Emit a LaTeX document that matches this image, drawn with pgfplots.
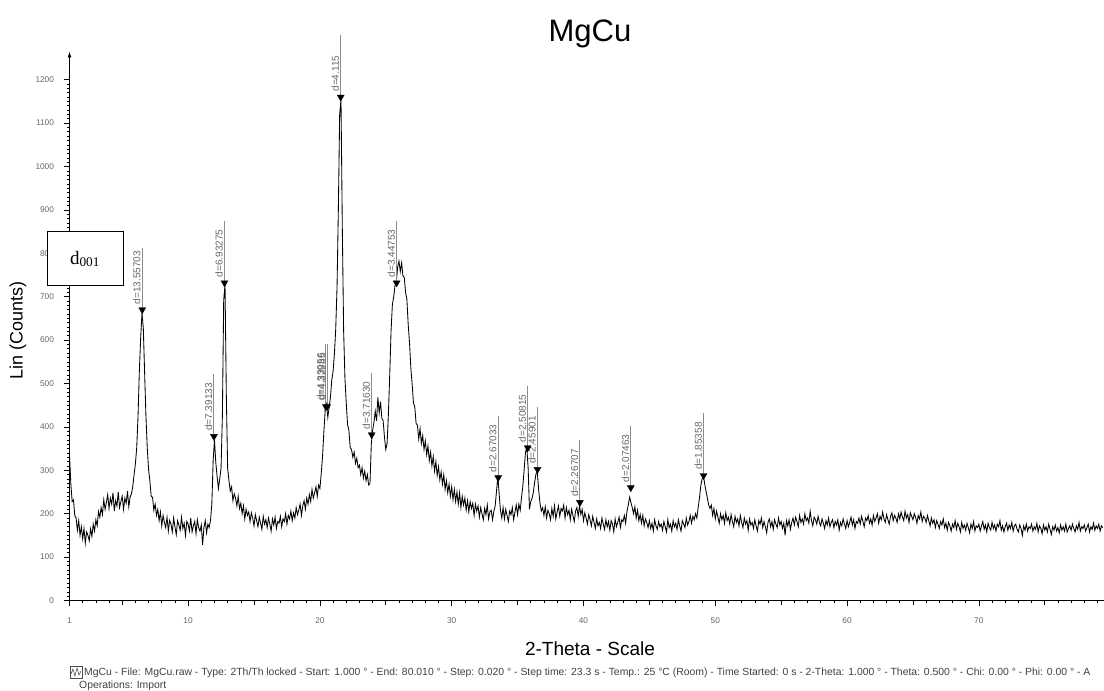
\documentclass[border=0pt]{standalone}
\usepackage{fontspec}
\setmainfont{Liberation Sans}
\newfontfamily\seriffont{Liberation Serif}
\usepackage{pgfplots}
\pgfplotsset{compat=1.18}
\usetikzlibrary{arrows.meta}

\begin{document}
\begin{tikzpicture}[x=1pt,y=1pt]
\path[use as bounding box] (0,0) rectangle (1104,691);
\begin{axis}[
  at={(69.5pt,90.5pt)}, anchor=south west,
  scale only axis, width=1034.5pt, height=549pt,
  xmin=1, xmax=79.5, ymin=0, ymax=1265,
  clip=false,
  axis x line=bottom, axis y line=left,
  x axis line style={-, line width=0.9pt},
  y axis line style={-{Latex[length=6pt,width=4pt]}, line width=0.9pt},
  tick align=outside,
  xtick={1,10,20,30,40,50,60,70},
  minor xtick={2,...,79},
  extra x ticks={5,15,25,35,45,55,65,75},
  extra x tick labels={},
  extra x tick style={major tick length=4.5pt},
  ytick={0,100,...,1200},
  minor y tick num=9,
  major tick length=6pt, minor tick length=3pt,
  every tick/.style={black, line width=0.6pt},
  /pgf/number format/assume math mode=true,
  /pgf/number format/1000 sep={},
  xticklabel style={font=\fontsize{8.3}{10}\selectfont, text=black!60, yshift=-8pt},
  yticklabel style={font=\fontsize{8.3}{10}\selectfont, text=black!60, xshift=-6pt},
]
\addplot[black, line width=0.85pt] coordinates {
(1.0,335)(1.1,270)(1.2,228)(1.3,232)(1.4,196)(1.5,190)(1.6,162)(1.7,184)(1.8,150)(1.9,170)
(2.0,142)(2.1,166)(2.2,132)(2.3,158)(2.4,150)(2.5,138)(2.6,165)(2.7,148)(2.8,176)(2.9,160)
(3.0,186)(3.1,172)(3.2,205)(3.3,192)(3.4,214)(3.5,198)(3.6,232)(3.7,210)(3.8,226)(3.9,244)
(4.0,212)(4.1,236)(4.2,222)(4.3,248)(4.4,206)(4.5,230)(4.6,218)(4.7,250)(4.8,214)(4.9,228)
(5.0,240)(5.1,210)(5.2,236)(5.3,224)(5.4,252)(5.5,216)(5.6,238)(5.7,246)(5.8,262)(5.9,290)
(6.0,315)(6.1,352)(6.2,425)(6.3,528)(6.4,605)(6.5,662)(6.6,628)(6.7,525)(6.8,425)(6.9,352)
(7.0,302)(7.1,275)(7.2,240)(7.3,238)(7.4,208)(7.5,222)(7.6,196)(7.7,210)(7.8,184)(7.9,204)
(8.0,172)(8.1,196)(8.2,180)(8.3,168)(8.4,192)(8.5,160)(8.6,185)(8.7,176)(8.8,158)(8.9,190)
(9.0,170)(9.1,152)(9.2,184)(9.3,174)(9.4,162)(9.5,192)(9.6,166)(9.7,178)(9.8,150)(9.9,182)
(10.0,176)(10.1,160)(10.2,190)(10.3,158)(10.4,172)(10.5,182)(10.6,154)(10.7,186)(10.8,168)(10.9,160)
(11.0,174)(11.1,128)(11.2,168)(11.3,184)(11.4,156)(11.5,176)(11.6,168)(11.7,185)(11.8,222)(11.9,322)
(12.0,370)(12.1,318)(12.2,286)(12.3,258)(12.4,280)(12.5,305)(12.6,425)(12.7,692)(12.8,728)(12.9,472)
(13.0,305)(13.1,276)(13.2,252)(13.3,262)(13.4,230)(13.5,246)(13.6,236)(13.7,218)(13.8,240)(13.9,212)
(14.0,224)(14.1,200)(14.2,218)(14.3,188)(14.4,210)(14.5,196)(14.6,204)(14.7,182)(14.8,202)(14.9,190)
(15.0,172)(15.1,198)(15.2,184)(15.3,170)(15.4,192)(15.5,178)(15.6,164)(15.7,194)(15.8,176)(15.9,186)
(16.0,168)(16.1,190)(16.2,176)(16.3,160)(16.4,188)(16.5,174)(16.6,192)(16.7,166)(16.8,182)(16.9,178)
(17.0,194)(17.1,170)(17.2,188)(17.3,182)(17.4,200)(17.5,176)(17.6,196)(17.7,188)(17.8,206)(17.9,184)
(18.0,202)(18.1,190)(18.2,214)(18.3,198)(18.4,208)(18.5,222)(18.6,196)(18.7,218)(18.8,230)(18.9,210)
(19.0,236)(19.1,222)(19.2,244)(19.3,228)(19.4,256)(19.5,236)(19.6,248)(19.7,262)(19.8,240)(19.9,266)
(20.0,258)(20.1,292)(20.2,332)(20.3,388)(20.4,438)(20.5,452)(20.6,422)(20.7,445)(20.8,468)(20.9,508)
(21.0,528)(21.1,568)(21.2,625)(21.3,722)(21.4,900)(21.5,1120)(21.6,1155)(21.7,860)(21.8,622)(21.9,512)
(22.0,455)(22.1,405)(22.2,392)(22.3,352)(22.4,348)(22.5,330)(22.6,342)(22.7,316)(22.8,328)(22.9,306)
(23.0,312)(23.1,290)(23.2,306)(23.3,282)(23.4,298)(23.5,276)(23.6,290)(23.7,266)(23.8,270)(23.9,360)
(24.0,392)(24.1,410)(24.2,436)(24.3,414)(24.4,468)(24.5,432)(24.6,458)(24.7,420)(24.8,414)(24.9,376)
(25.0,348)(25.1,362)(25.2,432)(25.3,522)(25.4,622)(25.5,682)(25.6,700)(25.7,726)(25.8,735)(25.9,768)
(26.0,782)(26.1,758)(26.2,778)(26.3,748)(26.4,745)(26.5,710)(26.6,694)(26.7,636)(26.8,594)(26.9,536)
(27.0,498)(27.1,455)(27.2,446)(27.3,408)(27.4,404)(27.5,372)(27.6,396)(27.7,362)(27.8,380)(27.9,348)
(28.0,368)(28.1,336)(28.2,356)(28.3,322)(28.4,342)(28.5,310)(28.6,332)(28.7,298)(28.8,320)(28.9,288)
(29.0,308)(29.1,278)(29.2,296)(29.3,268)(29.4,290)(29.5,256)(29.6,276)(29.7,248)(29.8,268)(29.9,240)
(30.0,262)(30.1,232)(30.2,256)(30.3,228)(30.4,250)(30.5,222)(30.6,248)(30.7,214)(30.8,240)(30.9,220)
(31.0,236)(31.1,208)(31.2,230)(31.3,204)(31.4,228)(31.5,212)(31.6,224)(31.7,196)(31.8,222)(31.9,206)
(32.0,218)(32.1,192)(32.2,214)(32.3,200)(32.4,186)(32.5,212)(32.6,198)(32.7,220)(32.8,188)(32.9,204)
(33.0,208)(33.1,186)(33.2,206)(33.3,218)(33.4,252)(33.5,286)(33.6,246)(33.7,208)(33.8,190)(33.9,214)
(34.0,188)(34.1,210)(34.2,196)(34.3,182)(34.4,206)(34.5,198)(34.6,214)(34.7,186)(34.8,204)(34.9,220)
(35.0,198)(35.1,222)(35.2,208)(35.3,238)(35.4,264)(35.5,302)(35.6,342)(35.7,352)(35.8,306)(35.9,210)
(36.0,228)(36.1,236)(36.2,250)(36.3,274)(36.4,292)(36.5,296)(36.6,254)(36.7,224)(36.8,206)(36.9,214)
(37.0,196)(37.1,216)(37.2,190)(37.3,208)(37.4,200)(37.5,186)(37.6,212)(37.7,194)(37.8,218)(37.9,188)
(38.0,204)(38.1,218)(38.2,194)(38.3,212)(38.4,206)(38.5,220)(38.6,190)(38.7,214)(38.8,198)(38.9,208)
(39.0,186)(39.1,210)(39.2,196)(39.3,182)(39.4,206)(39.5,214)(39.6,194)(39.7,218)(39.8,198)(39.9,210)
(40.0,184)(40.1,202)(40.2,190)(40.3,176)(40.4,198)(40.5,186)(40.6,172)(40.7,194)(40.8,180)(40.9,166)
(41.0,188)(41.1,172)(41.2,180)(41.3,166)(41.4,190)(41.5,176)(41.6,164)(41.7,186)(41.8,170)(41.9,182)
(42.0,162)(42.1,184)(42.2,176)(42.3,158)(42.4,188)(42.5,170)(42.6,180)(42.7,192)(42.8,168)(42.9,186)
(43.0,182)(43.1,196)(43.2,178)(43.3,206)(43.4,220)(43.5,238)(43.6,226)(43.7,214)(43.8,200)(43.9,216)
(44.0,190)(44.1,208)(44.2,184)(44.3,198)(44.4,178)(44.5,196)(44.6,172)(44.7,188)(44.8,180)(44.9,168)
(45.0,184)(45.1,166)(45.2,178)(45.3,160)(45.4,186)(45.5,172)(45.6,164)(45.7,182)(45.8,170)(45.9,176)
(46.0,162)(46.1,182)(46.2,170)(46.3,158)(46.4,186)(46.5,168)(46.6,176)(46.7,160)(46.8,184)(46.9,170)
(47.0,178)(47.1,164)(47.2,186)(47.3,172)(47.4,160)(47.5,184)(47.6,176)(47.7,168)(47.8,190)(47.9,174)
(48.0,182)(48.1,196)(48.2,178)(48.3,194)(48.4,186)(48.5,200)(48.6,190)(48.7,214)(48.8,236)(48.9,264)
(49.0,280)(49.1,288)(49.2,268)(49.3,252)(49.4,236)(49.5,220)(49.6,212)(49.7,220)(49.8,196)(49.9,212)
(50.0,188)(50.1,206)(50.2,192)(50.3,178)(50.4,200)(50.5,186)(50.6,196)(50.7,178)(50.8,202)(50.9,184)
(51.0,192)(51.1,176)(51.2,198)(51.3,182)(51.4,170)(51.5,194)(51.6,180)(51.7,188)(51.8,172)(51.9,196)
(52.0,180)(52.1,168)(52.2,190)(52.3,176)(52.4,184)(52.5,162)(52.6,188)(52.7,174)(52.8,180)(52.9,166)
(53.0,186)(53.1,172)(53.2,160)(53.3,184)(53.4,176)(53.5,190)(53.6,168)(53.7,182)(53.8,170)(53.9,156)
(54.0,180)(54.1,188)(54.2,170)(54.3,182)(54.4,164)(54.5,186)(54.6,176)(54.7,168)(54.8,190)(54.9,174)
(55.0,182)(55.1,166)(55.2,178)(55.3,150)(55.4,184)(55.5,172)(55.6,186)(55.7,164)(55.8,180)(55.9,190)
(56.0,174)(56.1,192)(56.2,182)(56.3,170)(56.4,196)(56.5,180)(56.6,188)(56.7,176)(56.8,200)(56.9,184)
(57.0,190)(57.1,178)(57.2,206)(57.3,184)(57.4,172)(57.5,192)(57.6,186)(57.7,176)(57.8,194)(57.9,180)
(58.0,172)(58.1,188)(58.2,178)(58.3,166)(58.4,184)(58.5,174)(58.6,190)(58.7,170)(58.8,180)(58.9,186)
(59.0,168)(59.1,182)(59.2,174)(59.3,186)(59.4,162)(59.5,180)(59.6,172)(59.7,188)(59.8,176)(59.9,166)
(60.0,184)(60.1,170)(60.2,180)(60.3,192)(60.4,174)(60.5,186)(60.6,166)(60.7,182)(60.8,178)(60.9,190)
(61.0,176)(61.1,194)(61.2,182)(61.3,170)(61.4,190)(61.5,184)(61.6,196)(61.7,178)(61.8,188)(61.9,174)
(62.0,196)(62.1,182)(62.2,190)(62.3,200)(62.4,178)(62.5,194)(62.6,186)(62.7,204)(62.8,188)(62.9,180)
(63.0,198)(63.1,186)(63.2,176)(63.3,194)(63.4,202)(63.5,184)(63.6,196)(63.7,190)(63.8,180)(63.9,200)
(64.0,188)(64.1,204)(64.2,192)(64.3,184)(64.4,206)(64.5,190)(64.6,198)(64.7,180)(64.8,202)(64.9,194)
(65.0,186)(65.1,200)(65.2,192)(65.3,178)(65.4,196)(65.5,188)(65.6,204)(65.7,182)(65.8,194)(65.9,190)
(66.0,180)(66.1,196)(66.2,184)(66.3,172)(66.4,190)(66.5,178)(66.6,186)(66.7,168)(66.8,184)(66.9,176)
(67.0,166)(67.1,182)(67.2,174)(67.3,188)(67.4,168)(67.5,178)(67.6,162)(67.7,180)(67.8,172)(67.9,160)
(68.0,176)(68.1,168)(68.2,184)(68.3,164)(68.4,178)(68.5,170)(68.6,158)(68.7,180)(68.8,166)(68.9,174)
(69.0,162)(69.1,178)(69.2,168)(69.3,156)(69.4,176)(69.5,166)(69.6,182)(69.7,160)(69.8,172)(69.9,168)
(70.0,176)(70.1,160)(70.2,172)(70.3,182)(70.4,164)(70.5,174)(70.6,158)(70.7,178)(70.8,168)(70.9,162)
(71.0,180)(71.1,166)(71.2,174)(71.3,160)(71.4,176)(71.5,170)(71.6,184)(71.7,162)(71.8,172)(71.9,158)
(72.0,170)(72.1,178)(72.2,162)(72.3,174)(72.4,166)(72.5,180)(72.6,160)(72.7,172)(72.8,176)(72.9,164)
(73.0,158)(73.1,174)(73.2,166)(73.3,150)(73.4,172)(73.5,162)(73.6,176)(73.7,160)(73.8,170)(73.9,166)
(74.0,176)(74.1,160)(74.2,170)(74.3,164)(74.4,178)(74.5,158)(74.6,172)(74.7,166)(74.8,154)(74.9,174)
(75.0,162)(75.1,170)(75.2,158)(75.3,176)(75.4,164)(75.5,152)(75.6,170)(75.7,162)(75.8,174)(75.9,160)
(76.0,168)(76.1,156)(76.2,174)(76.3,162)(76.4,170)(76.5,160)(76.6,176)(76.7,158)(76.8,166)(76.9,172)
(77.0,162)(77.1,176)(77.2,166)(77.3,158)(77.4,172)(77.5,164)(77.6,180)(77.7,160)(77.8,170)(77.9,166)
(78.0,174)(78.1,160)(78.2,168)(78.3,176)(78.4,158)(78.5,170)(78.6,164)(78.7,178)(78.8,162)(78.9,172)
(79.0,166)(79.1,176)(79.2,160)(79.3,172)(79.4,168)
};
% peak marker sticks
\addplot[black!45, line width=1pt] coordinates {(6.52,670)(6.52,813)};
\addplot[black!45, line width=1pt] coordinates {(11.96,378)(11.96,521)};
\addplot[black!45, line width=1pt] coordinates {(12.76,732)(12.76,875)};
\addplot[black!45, line width=1pt] coordinates {(20.45,447)(20.45,590)};
\addplot[black!45, line width=1pt] coordinates {(20.55,447)(20.55,590)};
\addplot[black!45, line width=1pt] coordinates {(21.58,1160)(21.58,1303)};
\addplot[black!45, line width=1pt] coordinates {(23.93,382)(23.93,525)};
\addplot[black!45, line width=1pt] coordinates {(25.82,732)(25.82,875)};
\addplot[black!45, line width=1pt] coordinates {(33.53,283)(33.53,426)};
\addplot[black!45, line width=1pt] coordinates {(35.77,352)(35.77,495)};
\addplot[black!45, line width=1pt] coordinates {(36.51,302)(36.51,445)};
\addplot[black!45, line width=1pt] coordinates {(39.73,226)(39.73,369)};
\addplot[black!45, line width=1pt] coordinates {(43.59,260)(43.59,403)};
\addplot[black!45, line width=1pt] coordinates {(49.11,288)(49.11,431)};
\addplot[only marks, mark=triangle*, mark size=4pt,
  mark options={rotate=180, fill=black, draw=black}] coordinates {
(6.52,670)(11.96,378)(12.76,732)(20.45,447)(20.55,447)(21.58,1160)(23.93,382)
(25.82,732)(33.53,283)(35.77,352)(36.51,302)(39.73,226)(43.59,260)(49.11,288)};
\begin{scope}[every node/.style={rotate=90, anchor=south west, inner sep=1.5pt,
   font=\fontsize{10}{12}\selectfont, text=black!60}]
\node at (axis cs:6.52,679) {d=13.55703};
\node at (axis cs:11.96,387) {d=7.39133};
\node at (axis cs:12.76,741) {d=6.93275};
\node at (axis cs:20.45,456) {d=4.33956};
\node at (axis cs:20.55,456) {d=4.32985};
\node at (axis cs:21.58,1169) {d=4.115};
\node at (axis cs:23.93,391) {d=3.71630};
\node at (axis cs:25.82,741) {d=3.44753};
\node at (axis cs:33.53,292) {d=2.67033};
\node at (axis cs:35.77,361) {d=2.50815};
\node at (axis cs:36.51,311) {d=2.45901};
\node at (axis cs:39.73,235) {d=2.26707};
\node at (axis cs:43.59,269) {d=2.07463};
\node at (axis cs:49.11,297) {d=1.85358};
\end{scope}
\end{axis}
% title and labels
\node[font=\fontsize{31}{36}\selectfont, anchor=base] at (590,649) {MgCu};
\node[rotate=90, font=\fontsize{18}{20}\selectfont] at (18,361) {Lin (Counts)};
\node[font=\fontsize{19}{22}\selectfont, anchor=base] at (590,35) {2-Theta - Scale};
% d001 box
\draw[fill=white, line width=1pt] (47,405) rectangle (123,459);
\node[font=\seriffont\fontsize{19}{22}\selectfont] at (85,432) {d\textsubscript{001}};
% footer
\draw[black!70, line width=0.6pt] (70,13) rectangle (82,25);
\draw[black!70, line width=0.6pt] (71,17) -- (73,22) -- (75,15) -- (77,23) -- (79,16) -- (81,20);
\node[anchor=base west, inner sep=0pt, font=\fontsize{10.4}{12}\selectfont, text=black!75] at (84,15)
 {MgCu - File: MgCu.raw - Type: 2Th/Th locked - Start: 1.000 ° - End: 80.010 ° - Step: 0.020 ° - Step time: 23.3 s - Temp.: 25 °C (Room) - Time Started: 0 s - 2-Theta: 1.000 ° - Theta: 0.500 ° - Chi: 0.00 ° - Phi: 0.00 ° - A};
\node[anchor=base west, inner sep=0pt, font=\fontsize{10.4}{12}\selectfont, text=black!75] at (79,2)
 {Operations: Import};
\end{tikzpicture}
\end{document}
